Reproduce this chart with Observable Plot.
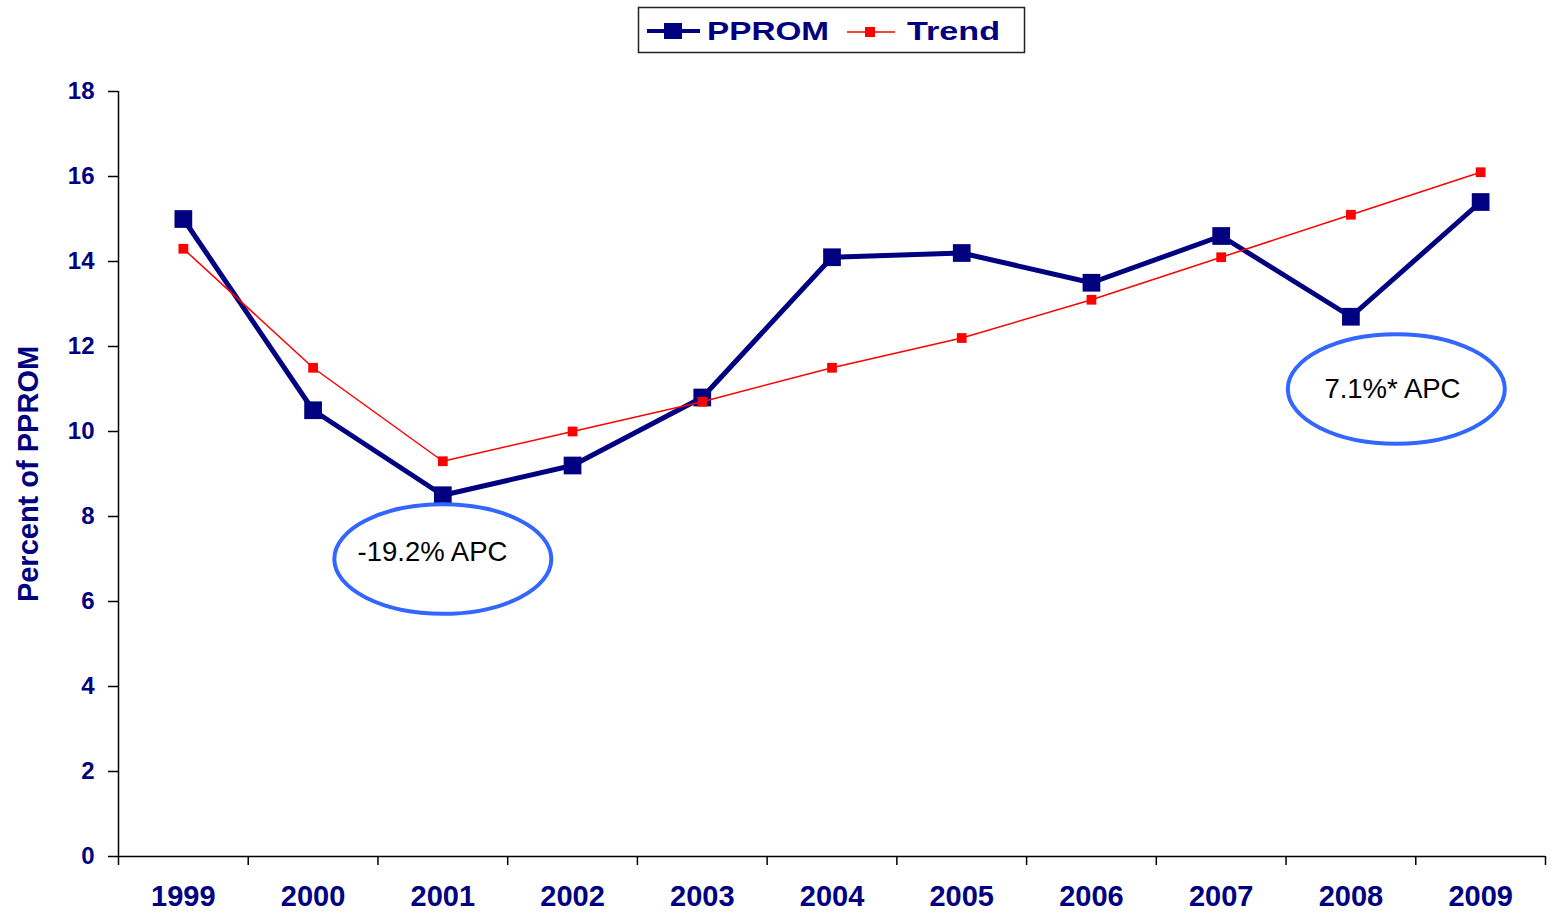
<!DOCTYPE html>
<html>
<head>
<meta charset="utf-8">
<script src="https://cdn.jsdelivr.net/npm/d3@7"></script>
<script src="https://cdn.jsdelivr.net/npm/@observablehq/plot@0.6"></script>
<style>
  html, body { margin: 0; padding: 0; background: white; }
  #wrap { position: relative; width: 1551px; height: 913px; }
  #legend { position: absolute; left: 0; top: 0; }
</style>
</head>
<body>
<div id="wrap"></div>
<script>
// ---- data ----
const years = [1999, 2000, 2001, 2002, 2003, 2004, 2005, 2006, 2007, 2008, 2009];
const pprom = [15.0, 10.5, 8.5, 9.2, 10.8, 14.1, 14.2, 13.5, 14.6, 12.7, 15.4];
const trend = [14.3, 11.5, 9.3, 10.0, 10.7, 11.5, 12.2, 13.1, 14.1, 15.1, 16.1];
const yTicks = [0, 2, 4, 6, 8, 10, 12, 14, 16, 18];
const xBoundaries = [1998.5, 1999.5, 2000.5, 2001.5, 2002.5, 2003.5, 2004.5, 2005.5, 2006.5, 2007.5, 2008.5, 2009.5];
const annoText = ["-19.2% APC", "7.1%* APC"];
const annoX = [2000.92, 2008.32];
const annoY = [7.15, 11.0];
const ellipseX = [2001.0, 2008.35];
const ellipseY = [7.0, 11.0];
const seriesNames = ["PPROM", "Trend"];
const yTitle = "Percent of PPROM";

const navy = "#000080";
const red = "#ff0000";
const blue = "#3366ff";
const font = "'Liberation Sans', Arial, sans-serif";

const data = years.map((year, i) => ({year, pprom: pprom[i], trend: trend[i]}));
const annos = annoText.map((t, i) => ({t, x: annoX[i], y: annoY[i]}));
const ellipses = ellipseX.map((x, i) => ({x, y: ellipseY[i]}));

const ellipseSymbol = {
  draw(ctx, size) {
    const rx = Math.sqrt(size / Math.PI);
    const ry = rx * 0.505;
    const k = 0.5523;
    ctx.moveTo(rx, 0);
    ctx.bezierCurveTo(rx, ry * k, rx * k, ry, 0, ry);
    ctx.bezierCurveTo(-rx * k, ry, -rx, ry * k, -rx, 0);
    ctx.bezierCurveTo(-rx, -ry * k, -rx * k, -ry, 0, -ry);
    ctx.bezierCurveTo(rx * k, -ry, rx, -ry * k, rx, 0);
    ctx.closePath();
  }
};

const chart = Plot.plot({
  width: 1551,
  height: 913,
  marginLeft: 118,
  marginRight: 6,
  marginTop: 91,
  marginBottom: 57,
  style: {background: "white", fontFamily: font},
  x: {domain: [1998.5, 2009.5]},
  y: {domain: [0, 18]},
  marks: [
    Plot.axisY({ticks: yTicks, tickSize: 10, tickPadding: 14, stroke: "black", fill: navy,
      fontSize: 24, fontWeight: "bold", label: null, strokeWidth: 1.5}),
    Plot.axisX({ticks: xBoundaries, tickSize: 9, tickFormat: () => "", stroke: "black",
      label: null, strokeWidth: 1.5}),
    Plot.axisX({ticks: years, tickSize: 0, tickPadding: 29, tickFormat: d => String(d),
      fill: navy, fontSize: 29, fontWeight: "bold", label: null}),
    Plot.ruleX([1998.5], {stroke: "black", strokeWidth: 1.5}),
    Plot.ruleY([0], {stroke: "black", strokeWidth: 1.5}),
    Plot.text([yTitle], {frameAnchor: "left", dx: -90, rotate: -90, fill: navy,
      fontSize: 29, fontWeight: "bold", lineAnchor: "middle", textAnchor: "middle"}),
    Plot.line(data, {x: "year", y: "pprom", stroke: navy, strokeWidth: 5}),
    Plot.dot(data, {x: "year", y: "pprom", symbol: "square", r: 10, fill: navy}),
    Plot.line(data, {x: "year", y: "trend", stroke: red, strokeWidth: 1.5}),
    Plot.dot(data, {x: "year", y: "trend", symbol: "square", r: 5.5, fill: red}),
    Plot.dot(ellipses, {x: "x", y: "y", symbol: ellipseSymbol, r: 108.5, fill: "white",
      stroke: blue, strokeWidth: 4}),
    Plot.text(annos, {x: "x", y: "y", text: "t", fill: "black", fontSize: 27.5,
      lineAnchor: "middle", fontFamily: font})
  ]
});

const wrap = document.getElementById("wrap");
wrap.appendChild(chart);

// legend (overlay above the plot area)
const ns = "http://www.w3.org/2000/svg";
const leg = document.createElementNS(ns, "svg");
leg.setAttribute("id", "legend");
leg.setAttribute("width", 1551);
leg.setAttribute("height", 60);
function el(tag, attrs, text) {
  const e = document.createElementNS(ns, tag);
  for (const k in attrs) e.setAttribute(k, attrs[k]);
  if (text != null) e.textContent = text;
  leg.appendChild(e);
  return e;
}
el("rect", {x: 638.5, y: 7.5, width: 386, height: 45, fill: "white", stroke: "#222", "stroke-width": 1.5});
el("line", {x1: 647, x2: 700, y1: 31, y2: 31, stroke: navy, "stroke-width": 4});
el("rect", {x: 664, y: 23, width: 18, height: 16, fill: navy});
el("text", {x: 707, y: 39.5, fill: navy, "font-size": 26, "font-weight": "bold", "font-family": font,
  textLength: 122, lengthAdjust: "spacingAndGlyphs"}, seriesNames[0]);
el("line", {x1: 847, x2: 895, y1: 32, y2: 32, stroke: red, "stroke-width": 1.5});
el("rect", {x: 865, y: 27, width: 10, height: 10, fill: red});
el("text", {x: 907, y: 39.5, fill: navy, "font-size": 26, "font-weight": "bold", "font-family": font,
  textLength: 93, lengthAdjust: "spacingAndGlyphs"}, seriesNames[1]);
wrap.appendChild(leg);
</script>
</body>
</html>
